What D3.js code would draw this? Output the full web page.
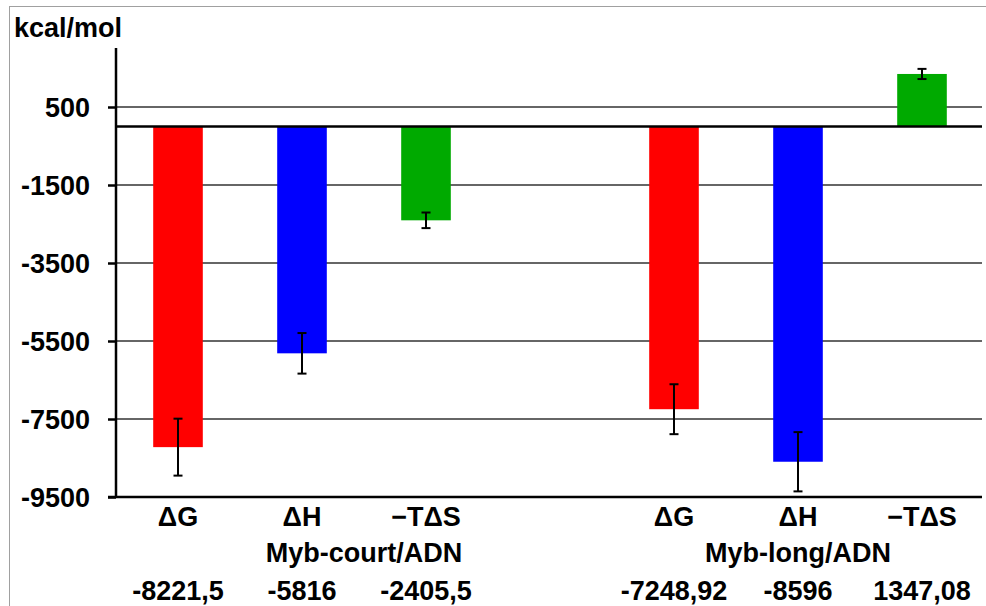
<!DOCTYPE html>
<html><head><meta charset="utf-8">
<script src="https://cdn.jsdelivr.net/npm/d3@7"></script>
<style>body{margin:0;background:#fff}svg{display:block}text{font-family:"Liberation Sans",Arial,sans-serif;font-weight:bold;fill:#000}</style>
</head><body><svg id="c" width="986" height="606"></svg>
<script>
const slots = ["c-G","c-H","c-S","gap","l-G","l-H","l-S"];
const categories = ["ΔG","ΔH","−TΔS"];
const groups = ["Myb-court/ADN","Myb-long/ADN"];
const courtValues = [-8221.5, -5816, -2405.5];
const longValues = [-7248.92, -8596, 1347.08];
const courtErrors = [730, 520, 200];
const longErrors = [640, 760, 130];
const valueLabels = [["-8221,5","-5816","-2405,5"],["-7248,92","-8596","1347,08"]];
const tickValues = [500, -1500, -3500, -5500, -7500, -9500];
const colors = ["#ff0000","#0000ff","#00aa00"];
const FS = 27;

const svg = d3.select("#c");
svg.append("rect").attr("x",9.5).attr("y",6.5).attr("width",1000).attr("height",640)
  .attr("fill","none").attr("stroke","#a0a0a0").attr("stroke-width",1);

const x = d3.scaleBand().domain(slots).range([116,984]).paddingInner(0.6).paddingOuter(0.3);
const y = d3.scaleLinear().domain([-9500,2000]).range([497,48.5]);
const cx = s => x(s)+x.bandwidth()/2;

const data = [];
[courtValues,longValues].forEach((vals,gi)=>{
  vals.forEach((v,i)=>data.push({slot:slots[gi*4+i], v, err:(gi?longErrors:courtErrors)[i], color:colors[i], cat:categories[i], label:valueLabels[gi][i]}));
});

// gridlines
svg.append("g").selectAll("line").data(tickValues.filter(t=>t!==-9500)).join("line")
  .attr("x1",116).attr("x2",982).attr("y1",d=>y(d)).attr("y2",d=>y(d))
  .attr("stroke","#333").attr("stroke-width",1.5);

// bars
svg.append("g").selectAll("rect").data(data).join("rect")
  .attr("x",d=>x(d.slot)).attr("width",x.bandwidth())
  .attr("y",d=>y(Math.max(0,d.v))).attr("height",d=>Math.abs(y(d.v)-y(0)))
  .attr("fill",d=>d.color);

// error bars
const eb = svg.append("g").attr("stroke","#000").attr("stroke-width",2);
data.forEach(d=>{
  const c = cx(d.slot);
  eb.append("line").attr("x1",c).attr("x2",c).attr("y1",y(d.v-d.err)).attr("y2",y(d.v+d.err));
  [d.v-d.err,d.v+d.err].forEach(e=>eb.append("line").attr("x1",c-4.5).attr("x2",c+4.5).attr("y1",y(e)).attr("y2",y(e)));
});

// zero baseline
svg.append("line").attr("x1",116).attr("x2",982).attr("y1",y(0)).attr("y2",y(0)).attr("stroke","#000").attr("stroke-width",2.5);

// y axis
const yAxis = d3.axisLeft(y).tickValues(tickValues).tickSize(8).tickPadding(18).tickFormat(d=>String(d));
const ga = svg.append("g").attr("transform","translate(116,0)").call(yAxis);
ga.select(".domain").remove();
ga.selectAll(".tick line").attr("stroke","#000").attr("stroke-width",2.5);
ga.selectAll(".tick text").attr("font-size",FS).attr("font-family","Liberation Sans, Arial, sans-serif").attr("font-weight","bold").attr("fill","#000").attr("dy","0.36em");
svg.append("line").attr("x1",116).attr("x2",116).attr("y1",48).attr("y2",498).attr("stroke","#000").attr("stroke-width",2.5);
svg.append("line").attr("x1",108).attr("x2",982).attr("y1",497).attr("y2",497).attr("stroke","#000").attr("stroke-width",2.5);

// labels
svg.append("text").attr("x",14).attr("y",37).attr("font-size",FS).text("kcal/mol");
svg.append("g").selectAll("text").data(data).join("text")
  .attr("x",d=>cx(d.slot)).attr("y",526).attr("text-anchor","middle").attr("font-size",FS).text(d=>d.cat);
svg.append("g").selectAll("text").data(data).join("text")
  .attr("x",d=>cx(d.slot)).attr("y",600).attr("text-anchor","middle").attr("font-size",FS).text(d=>d.label);
// group labels: first centred between its 2nd and 3rd bars, second under its 2nd bar (as in the original)
const groupX = [(cx(slots[1])+cx(slots[2]))/2, cx(slots[5])];
svg.append("g").selectAll("text").data(groups).join("text")
  .attr("x",(d,i)=>groupX[i]).attr("y",562).attr("text-anchor","middle").attr("font-size",FS).text(d=>d);
</script></body></html>
